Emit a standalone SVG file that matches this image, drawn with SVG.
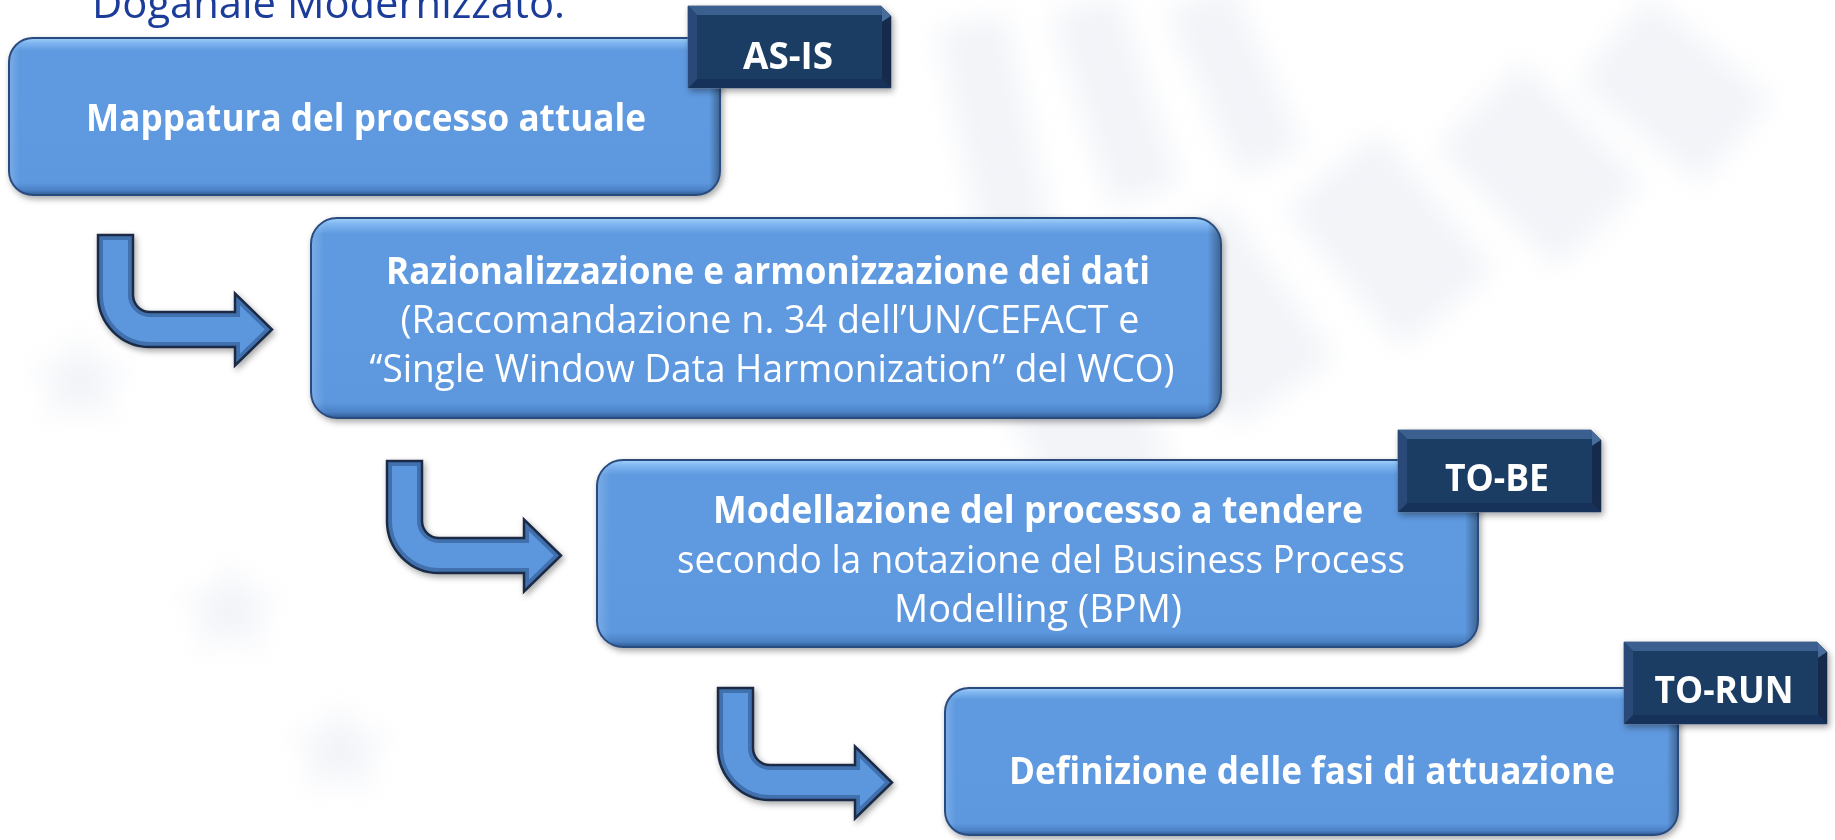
<svg xmlns="http://www.w3.org/2000/svg" width="1835" height="840" viewBox="0 0 1835 840">
<defs>
  <style>
    .title{font-family:"Open Sans","Liberation Sans",sans-serif;font-size:42px;fill:#1C3C9A}
    .bt{font-family:"Open Sans","Liberation Sans",sans-serif;font-size:38px;fill:#FFFFFF;text-anchor:middle}
    .b{font-weight:bold}
    .tag{font-family:"Open Sans","Liberation Sans",sans-serif;font-size:37px;font-weight:bold;fill:#FFFFFF;text-anchor:middle}
    .boxfill{fill:url(#boxV)}
    .boxedge{fill:url(#boxH)}
    .boxline{fill:none;stroke:#2B4C7E;stroke-width:2}
    .wm{fill:#D9DFEB}
  </style>
  <linearGradient id="boxV" x1="0" y1="0" x2="0" y2="1">
    <stop offset="0" stop-color="#A2D0FA"/>
    <stop offset="0.03" stop-color="#80B6F0"/>
    <stop offset="0.08" stop-color="#5F9AE0"/>
    <stop offset="0.92" stop-color="#5D98DF"/>
    <stop offset="0.97" stop-color="#4C82C6"/>
    <stop offset="1" stop-color="#2E5A92"/>
  </linearGradient>
  <linearGradient id="boxH" x1="0" y1="0" x2="1" y2="0">
    <stop offset="0" stop-color="#FFFFFF" stop-opacity="0.18"/>
    <stop offset="0.015" stop-color="#FFFFFF" stop-opacity="0"/>
    <stop offset="0.985" stop-color="#000000" stop-opacity="0"/>
    <stop offset="1" stop-color="#000000" stop-opacity="0.35"/>
  </linearGradient>
  <filter id="shadow" x="-5%" y="-10%" width="112%" height="125%">
    <feDropShadow dx="2" dy="3" stdDeviation="3" flood-color="#000000" flood-opacity="0.35"/>
  </filter>
  <filter id="blur" x="-30%" y="-30%" width="160%" height="160%">
    <feGaussianBlur stdDeviation="14"/>
  </filter>
  <clipPath id="arrClip">
    <path d="M0 0 H35 V60 A17 17 0 0 0 52 77 H137 V58.5 L174 94.5 L137 130.5 V112 H52 A52 52 0 0 1 0 60 Z"/>
  </clipPath>
  <g id="arrow">
    <path d="M0 0 H35 V60 A17 17 0 0 0 52 77 H137 V58.5 L174 94.5 L137 130.5 V112 H52 A52 52 0 0 1 0 60 Z" fill="#5B96DC"/>
    <path d="M0 0 H35 V60 A17 17 0 0 0 52 77 H137 V58.5 L174 94.5 L137 130.5 V112 H52 A52 52 0 0 1 0 60 Z" fill="none" stroke="#345E98" stroke-width="10" stroke-opacity="0.7" clip-path="url(#arrClip)"/>
    <path d="M0 0 H35 V60 A17 17 0 0 0 52 77 H137 V58.5 L174 94.5 L137 130.5 V112 H52 A52 52 0 0 1 0 60 Z" fill="none" stroke="#1A2C45" stroke-width="2.5" stroke-linejoin="miter"/>
  </g>
  <g id="tagShape">
    <polygon points="0,0 193,0 203,10 203,82 0,82" fill="#1E3A62" stroke="#5C6E88" stroke-width="1"/>
    <polygon points="0,0 193,0 194,9 9,9" fill="#3B5F8E"/>
    <polygon points="193,0 203,10 194,16 194,9" fill="#4A6D9A"/>
    <polygon points="203,10 203,82 194,73 194,16" fill="#152C4C"/>
    <polygon points="0,82 203,82 194,73 9,73" fill="#19335A"/>
    <polygon points="0,0 9,9 9,73 0,82" fill="#2A4A78"/>
    <rect x="9" y="9" width="185" height="64" fill="#1F3C64"/>
  </g>
</defs>

<rect width="1835" height="840" fill="#FFFFFF"/>

<g id="watermark" filter="url(#blur)" opacity="0.35">
  <rect class="wm" x="960" y="20" width="70" height="230" transform="rotate(-12 995 135)"/>
  <rect class="wm" x="1080" y="0" width="70" height="200" transform="rotate(-18 1115 100)"/>
  <rect class="wm" x="1200" y="-10" width="70" height="180" transform="rotate(-24 1235 80)"/>
  <rect class="wm" x="1010" y="300" width="120" height="200" transform="rotate(-30 1070 400)"/>
  <rect class="wm" x="1170" y="220" width="120" height="190" transform="rotate(-35 1230 315)"/>
  <rect class="wm" x="1330" y="150" width="120" height="180" transform="rotate(-40 1390 240)"/>
  <rect class="wm" x="1480" y="80" width="120" height="170" transform="rotate(-45 1540 165)"/>
  <rect class="wm" x="1620" y="10" width="110" height="160" transform="rotate(-50 1675 90)"/>
  <polygon class="wm" points="80,330 95,365 133,365 102,388 114,425 80,402 46,425 58,388 27,365 65,365"/>
  <polygon class="wm" points="230,560 245,595 283,595 252,618 264,655 230,632 196,655 208,618 177,595 215,595"/>
  <polygon class="wm" points="340,700 355,735 393,735 362,758 374,795 340,772 306,795 318,758 287,735 325,735"/>
</g>

<text class="title" x="92" y="18" textLength="473" lengthAdjust="spacingAndGlyphs">Doganale Modernizzato.</text>

<g id="connectors" filter="url(#shadow)">
  <use href="#arrow" x="98" y="235"/>
  <use href="#arrow" x="387" y="461"/>
  <use href="#arrow" x="718" y="688"/>
</g>

<g id="node-asis">
  <g filter="url(#shadow)">
    <rect class="boxfill" x="9" y="38" width="711" height="157" rx="24"/>
    <rect class="boxedge" x="9" y="38" width="711" height="157" rx="24"/>
    <rect class="boxline" x="9" y="38" width="711" height="157" rx="24"/>
  </g>
  <text class="bt b" x="366" y="131" textLength="560" lengthAdjust="spacingAndGlyphs">Mappatura del processo attuale</text>
  <g filter="url(#shadow)"><use href="#tagShape" x="688" y="6"/></g>
  <text class="tag" x="788" y="69" textLength="90" lengthAdjust="spacingAndGlyphs">AS-IS</text>
</g>

<g id="node-razionalizzazione">
  <g filter="url(#shadow)">
    <rect class="boxfill" x="311" y="218" width="910" height="200" rx="26"/>
    <rect class="boxedge" x="311" y="218" width="910" height="200" rx="26"/>
    <rect class="boxline" x="311" y="218" width="910" height="200" rx="26"/>
  </g>
  <text class="bt b" x="768" y="284" textLength="764" lengthAdjust="spacingAndGlyphs">Razionalizzazione e armonizzazione dei dati</text>
  <text class="bt" x="770" y="333" textLength="739" lengthAdjust="spacingAndGlyphs">(Raccomandazione n. 34 dell’UN/CEFACT e</text>
  <text class="bt" x="772" y="382" textLength="805" lengthAdjust="spacingAndGlyphs">“Single Window Data Harmonization” del WCO)</text>
</g>

<g id="node-tobe">
  <g filter="url(#shadow)">
    <rect class="boxfill" x="597" y="460" width="881" height="187" rx="26"/>
    <rect class="boxedge" x="597" y="460" width="881" height="187" rx="26"/>
    <rect class="boxline" x="597" y="460" width="881" height="187" rx="26"/>
  </g>
  <text class="bt b" x="1038" y="523" textLength="650" lengthAdjust="spacingAndGlyphs">Modellazione del processo a tendere</text>
  <text class="bt" x="1041" y="573" textLength="728" lengthAdjust="spacingAndGlyphs">secondo la notazione del Business Process</text>
  <text class="bt" x="1038" y="622" textLength="288" lengthAdjust="spacingAndGlyphs">Modelling (BPM)</text>
  <g filter="url(#shadow)"><use href="#tagShape" x="1398" y="430"/></g>
  <text class="tag" x="1497" y="491" textLength="104" lengthAdjust="spacingAndGlyphs">TO-BE</text>
</g>

<g id="node-torun">
  <g filter="url(#shadow)">
    <rect class="boxfill" x="945" y="688" width="733" height="147" rx="24"/>
    <rect class="boxedge" x="945" y="688" width="733" height="147" rx="24"/>
    <rect class="boxline" x="945" y="688" width="733" height="147" rx="24"/>
  </g>
  <text class="bt b" x="1312" y="784" textLength="606" lengthAdjust="spacingAndGlyphs">Definizione delle fasi di attuazione</text>
  <g filter="url(#shadow)"><use href="#tagShape" x="1624" y="642"/></g>
  <text class="tag" x="1724" y="703" textLength="139" lengthAdjust="spacingAndGlyphs">TO-RUN</text>
</g>
</svg>
